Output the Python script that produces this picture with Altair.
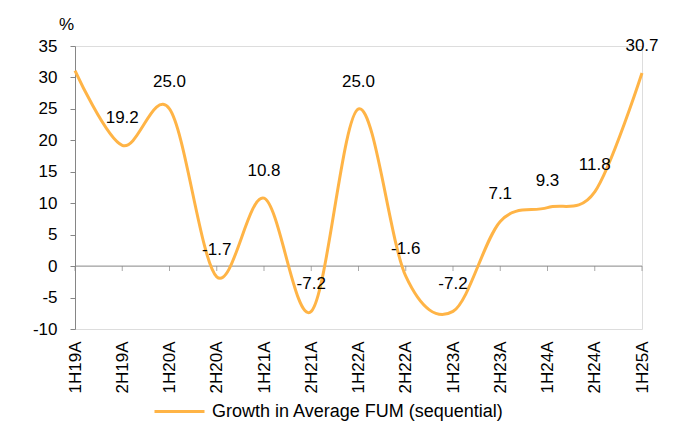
import altair as alt
import pandas as pd

periods = ["1H19A", "2H19A", "1H20A", "2H20A", "1H21A", "2H21A", "1H22A",
           "2H22A", "1H23A", "2H23A", "1H24A", "2H24A", "1H25A"]
growth = [31.1, 19.2, 25.0, -1.7, 10.8, -7.2, 25.0, -1.6, -7.2, 7.1, 9.3, 11.8, 30.7]
show_label = [0, 1, 1, 1, 1, 1, 1, 1, 1, 1, 1, 1, 1]
series_name = "Growth in Average FUM (sequential)"
y_ticks = [-10, -5, 0, 5, 10, 15, 20, 25, 30, 35]

df = pd.DataFrame({"period": periods, "growth": growth, "show": show_label,
                   "series": [series_name] * len(periods)})

FONT = "Liberation Sans"
FS = 17
ORANGE = "#FFB446"
GRAY = "#868686"

x_axis = alt.Axis(labelAngle=-90, domain=False, ticks=False, labelPadding=12,
                  labelFontSize=FS, labelColor="black", labelFont=FONT, title=None)
y_axis = alt.Axis(values=y_ticks, grid=False, domainColor=GRAY, tickColor=GRAY,
                  tickSize=5, labelPadding=13, labelFontSize=FS, labelColor="black",
                  labelFont=FONT,
                  labelExpr="datum.value < 0 ? '-' + abs(datum.value) : '' + datum.value",
                  title="%", titleAngle=0, titleFontSize=FS,
                  titleFontWeight="normal", titleFont=FONT, titleColor="black",
                  titleX=-9, titleY=-22, titleAlign="center", titleBaseline="middle")

x_enc = alt.X("period:N", sort=periods, scale=alt.Scale(type="point", padding=0), axis=x_axis)
y_scale = alt.Scale(domain=[-10, 35], nice=False, zero=False)

base = alt.Chart(df)

zero = alt.Chart(pd.DataFrame({"z": [0]})).mark_rule(color=GRAY, strokeWidth=1).encode(
    y=alt.Y("z:Q", scale=y_scale, axis=y_axis)
)

ticks = base.mark_tick(orient="vertical", size=5, thickness=1, yOffset=2.5, color=GRAY).encode(
    x=x_enc,
    y=alt.datum(0, type="quantitative", scale=y_scale, axis=y_axis),
)

line = base.mark_line(interpolate="cardinal", strokeWidth=3).encode(
    x=x_enc,
    y=alt.Y("growth:Q", scale=y_scale, axis=y_axis),
    color=alt.Color("series:N",
                    scale=alt.Scale(domain=[series_name], range=[ORANGE]),
                    legend=alt.Legend(title=None, orient="none", legendX=78, legendY=339,
                                      symbolType="stroke", symbolSize=2500,
                                      symbolStrokeWidth=3, labelFontSize=18,
                                      labelFont=FONT, labelColor="black",
                                      labelOffset=6, labelLimit=0, padding=0)),
)

labels = base.transform_filter(alt.datum.show == 1).transform_calculate(
    lbl="(datum.growth < 0 ? '-' : '') + format(abs(datum.growth), '.1f')"
).mark_text(
    dy=-27, fontSize=FS, font=FONT, color="black"
).encode(
    x=x_enc,
    y=alt.Y("growth:Q", scale=y_scale, axis=y_axis),
    text=alt.Text("lbl:N"),
)

chart = alt.layer(zero, ticks, line, labels).properties(
    width=567, height=283,
    padding={"left": 24, "top": 7, "right": 5, "bottom": 5},
).configure_view(stroke=None).configure(background="white")

chart.save("out.html", embed_options={"renderer": "svg", "actions": False})
